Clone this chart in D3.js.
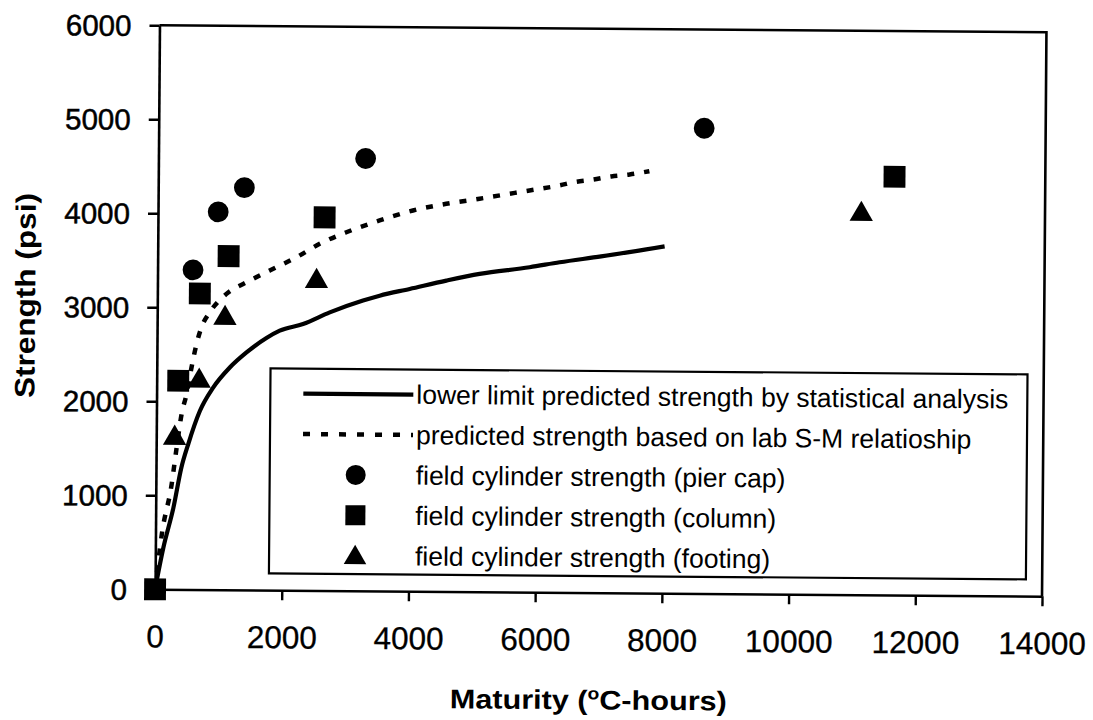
<!DOCTYPE html>
<html>
<head>
<meta charset="utf-8">
<script src="https://cdn.jsdelivr.net/npm/d3@7/dist/d3.min.js"></script>
<style>
  body { margin: 0; background: #fff; }
  svg { display: block; font-family: "Liberation Sans", Arial, sans-serif; }
</style>
</head>
<body>
<svg id="chart" width="1093" height="720"></svg>
<script>
// Axis ticks
const xTicks = [0, 2000, 4000, 6000, 8000, 10000, 12000, 14000];
const yTicks = [0, 1000, 2000, 3000, 4000, 5000, 6000];

// Lower limit predicted strength (statistical analysis): maturity, strength
const lowerLimitM = [0, 125, 280, 400, 505, 685, 892, 1152, 1414, 1727, 1936, 2303, 2723, 3247, 3509, 3982, 4560, 5084, 5872, 6345, 7000, 8000];
const lowerLimitS = [0, 440, 870, 1295, 1545, 1900, 2150, 2365, 2527, 2682, 2761, 2834, 2960, 3088, 3142, 3216, 3308, 3382, 3457, 3512, 3578, 3690];

// Predicted strength from the lab S-M relationship
const labPredM = [0, 25, 100, 249, 323, 397, 473, 548, 624, 700, 829, 1090, 1404, 1770, 2189, 2555, 2975, 3499, 4023, 4549, 5074, 5861, 6334, 6571, 6860, 7150, 7440, 7750];
const labPredS = [0, 155, 585, 1118, 1508, 1864, 2078, 2362, 2612, 2789, 2950, 3148, 3273, 3400, 3543, 3688, 3814, 3942, 4051, 4125, 4182, 4274, 4330, 4367, 4394, 4430, 4452, 4489];

// Field cylinder strengths
const pierCapM = [560, 950, 1360, 3270, 8610];
const pierCapS = [3400, 4020, 4280, 4600, 4950];
const columnM = [0, 340, 670, 1120, 2630, 11620];
const columnS = [0, 2220, 3150, 3550, 3970, 4450];
const footingM = [290, 670, 1070, 2510, 11100];
const footingS = [1610, 2220, 2890, 3290, 4050];

const legendLabels = [
  "lower limit predicted strength by statistical analysis",
  "predicted strength based on lab S-M relatioship",
  "field cylinder strength (pier cap)",
  "field cylinder strength (column)",
  "field cylinder strength (footing)"
];

const zip = (a, b) => a.map((v, i) => [v, b[i]]);

const L = 157.25, R = 1044.25, T = 28.75, B = 592.75;
const cx = (L + R) / 2, cy = (T + B) / 2;

const svg = d3.select("#chart");
const g = svg.append("g").attr("transform", `rotate(0.45, ${cx}, ${cy})`);

const x = d3.scaleLinear().domain([0, 14000]).range([L, R]);
const y = d3.scaleLinear().domain([0, 6000]).range([B, T]);

// frame: top and right edges
g.append("path")
  .attr("d", `M${L},${T}H${R}V${B}`)
  .attr("fill", "none").attr("stroke", "#000").attr("stroke-width", 2.6);

// y axis
const ya = g.append("g").attr("transform", `translate(${L},0)`)
  .call(d3.axisLeft(y).tickValues(yTicks).tickSize(10).tickSizeOuter(0).tickPadding(18).tickFormat(d3.format("d")));
ya.select(".domain").attr("stroke-width", 2.6);
ya.selectAll(".tick line").attr("stroke-width", 2.4);
ya.selectAll(".tick text")
  .attr("font-size", 29.5).attr("font-family", "Liberation Sans, Arial, sans-serif")
  .attr("fill", "#000").attr("dy", "0.35em")
  .attr("stroke", "#000").attr("stroke-width", 0.5);

// x axis
const xa = g.append("g").attr("transform", `translate(0,${B})`)
  .call(d3.axisBottom(x).tickValues(xTicks).tickSize(10).tickSizeOuter(0).tickFormat(d3.format("d")));
xa.select(".domain").attr("stroke-width", 2.6);
xa.selectAll(".tick line").attr("stroke-width", 2.4);
xa.selectAll(".tick text")
  .attr("font-size", 31.5).attr("font-family", "Liberation Sans, Arial, sans-serif")
  .attr("fill", "#000").attr("y", 58).attr("dy", null)
  .attr("stroke", "#000").attr("stroke-width", 0.3);

// axis titles
const xt = g.append("text")
  .attr("x", 591.4).attr("y", 709.4)
  .attr("text-anchor", "middle")
  .attr("font-weight", "bold").attr("font-size", 27)
  .attr("textLength", 277).attr("lengthAdjust", "spacingAndGlyphs");
xt.append("tspan").text("Maturity (");
xt.append("tspan").attr("font-size", 17).attr("dy", -10).text("o");
xt.append("tspan").attr("dy", 10).text("C-hours)");

g.append("text")
  .attr("transform", "translate(35,300) rotate(-90)")
  .attr("text-anchor", "middle")
  .attr("font-weight", "bold").attr("font-size", 28)
  .attr("textLength", 205).attr("lengthAdjust", "spacingAndGlyphs")
  .text("Strength (psi)");

// curves
const line = d3.line().x(d => x(d[0])).y(d => y(d[1])).curve(d3.curveMonotoneX);

g.append("path").datum(zip(lowerLimitM, lowerLimitS))
  .attr("d", line).attr("fill", "none")
  .attr("stroke", "#000").attr("stroke-width", 4.2).attr("stroke-linejoin", "round");

g.append("path").datum(zip(labPredM, labPredS))
  .attr("d", line).attr("fill", "none")
  .attr("stroke", "#000").attr("stroke-width", 4.5)
  .attr("stroke-dasharray", "7,10").attr("stroke-linecap", "butt");

// markers
const triSym = d3.symbol().type(d3.symbolTriangle).size(235);
const sqSym = d3.symbol().type(d3.symbolSquare).size(480);

g.append("g").selectAll("circle").data(zip(pierCapM, pierCapS)).join("circle")
  .attr("cx", d => x(d[0])).attr("cy", d => y(d[1])).attr("r", 10.4).attr("fill", "#000");

g.append("g").selectAll("path").data(zip(columnM, columnS)).join("path")
  .attr("d", sqSym).attr("transform", d => `translate(${x(d[0])},${y(d[1])})`).attr("fill", "#000");

g.append("g").selectAll("path").data(zip(footingM, footingS)).join("path")
  .attr("d", triSym).attr("transform", d => `translate(${x(d[0])},${y(d[1])})`).attr("fill", "#000");

// legend
const lg = g.append("g");
lg.append("rect").attr("x", 271).attr("y", 371).attr("width", 757).attr("height", 205)
  .attr("fill", "#fff").attr("stroke", "#000").attr("stroke-width", 2.2);

const rowY = i => 396 + i * 40.4;
const sx0 = 304, sx1 = 414, mx = 357;

lg.append("line").attr("x1", sx0).attr("x2", sx1).attr("y1", rowY(0)).attr("y2", rowY(0))
  .attr("stroke", "#000").attr("stroke-width", 4.2);
lg.append("line").attr("x1", sx0).attr("x2", sx1).attr("y1", rowY(1)).attr("y2", rowY(1))
  .attr("stroke", "#000").attr("stroke-width", 4.5).attr("stroke-dasharray", "7,11");
lg.append("circle").attr("cx", mx).attr("cy", rowY(2)).attr("r", 10).attr("fill", "#000");
lg.append("path").attr("d", d3.symbol().type(d3.symbolSquare).size(400))
  .attr("transform", `translate(${mx},${rowY(3)})`).attr("fill", "#000");
lg.append("path").attr("d", d3.symbol().type(d3.symbolTriangle).size(220))
  .attr("transform", `translate(${mx},${rowY(4) + 2})`).attr("fill", "#000");

lg.selectAll("text.lab").data(legendLabels).join("text")
  .attr("class", "lab")
  .attr("x", 417).attr("y", (d, i) => rowY(i)).attr("dy", "0.35em")
  .attr("font-size", 26.5).attr("fill", "#000")
  .text(d => d);
</script>
</body>
</html>
